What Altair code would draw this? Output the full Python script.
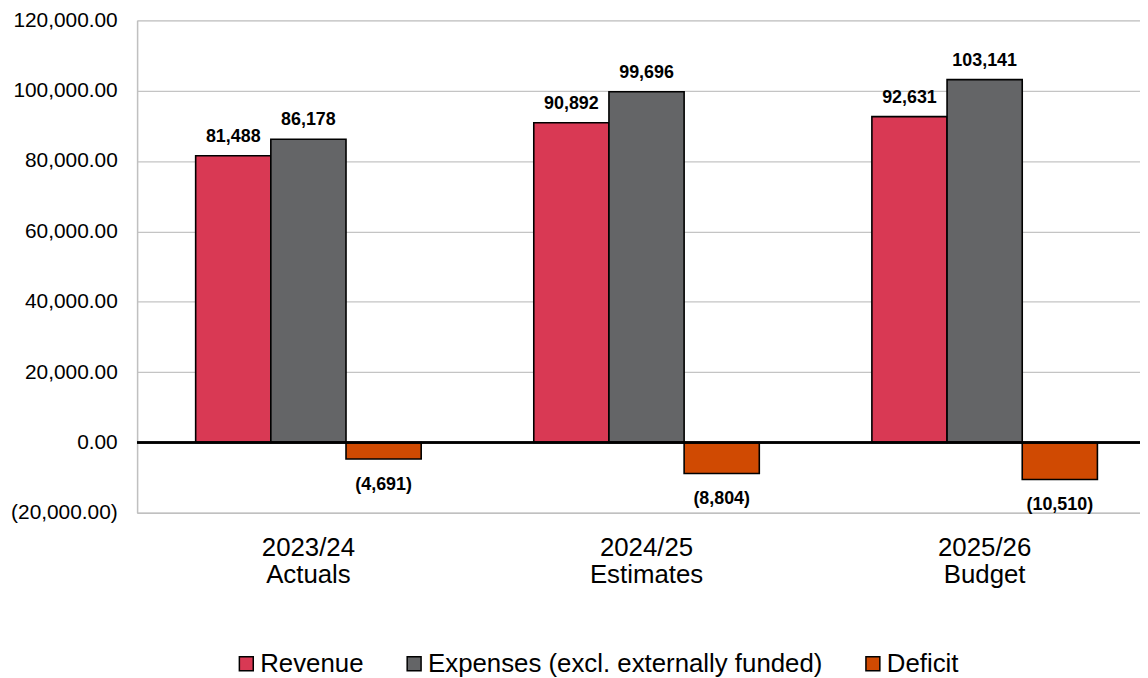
import altair as alt
import pandas as pd

periods = ["2023/24 Actuals", "2024/25 Estimates", "2025/26 Budget"]
series = ["Revenue", "Expenses (excl. externally funded)", "Deficit"]
revenue = [81488, 90892, 92631]
expenses = [86178, 99696, 103141]
deficit = [-4691, -8804, -10510]
colors = ["#d93954", "#646567", "#d04a02"]
y_ticks = [-20000, 0, 20000, 40000, 60000, 80000, 100000, 120000]

rows = []
for i, p in enumerate(periods):
    for s, v in zip(series, [revenue[i], expenses[i], deficit[i]]):
        rows.append({"period": p, "series": s, "value": v})
df = pd.DataFrame(rows)

FONT = "Liberation Sans"

x_enc = alt.X("period:N", sort=periods, title=None,
              scale=alt.Scale(paddingInner=0.333, paddingOuter=0.1496, align=0.579),
              axis=alt.Axis(labelExpr="split(datum.label, ' ')", labelAngle=0,
                            labelFontSize=26, labelFont=FONT, labelColor="#000000",
                            labelPadding=22, labelLineHeight=27, labelLimit=0,
                            ticks=False, domain=True,
                            domainColor="#c0c0c0", domainWidth=1.5))
xo_enc = alt.XOffset("series:N", sort=series,
                     scale=alt.Scale(paddingInner=0, paddingOuter=0))
y_enc = alt.Y("value:Q", title=None,
              scale=alt.Scale(domain=[-20000, 120000], nice=False),
              axis=alt.Axis(values=y_ticks,
                            labelExpr="datum.value < 0 ? '(' + format(-datum.value, ',.2f') + ')' : format(datum.value, ',.2f')",
                            labelFontSize=21, labelFont=FONT, labelColor="#000000",
                            labelPadding=20, labelLimit=0, ticks=False,
                            domainColor="#c0c0c0", domainWidth=1.5,
                            gridColor="#c4c4c4", gridWidth=1.2))

base = alt.Chart(df)

bars = base.mark_bar(stroke="#000000", strokeWidth=1.6).encode(
    x=x_enc, xOffset=xo_enc, y=y_enc,
    color=alt.Color("series:N", sort=series, title=None,
                    scale=alt.Scale(domain=series, range=colors),
                    legend=alt.Legend(orient="none", legendX=97, legendY=635,
                                      direction="horizontal",
                                      symbolType="square", symbolSize=196,
                                      symbolStrokeColor="#000000", symbolStrokeWidth=1.5,
                                      labelFontSize=26, labelFont=FONT, labelColor="#000000",
                                      labelLimit=0, columnPadding=37, labelOffset=1)),
)

pos_text = base.transform_filter("datum.value >= 0").mark_text(
    font=FONT, fontWeight="bold", fontSize=18, baseline="alphabetic", dy=-14, color="#000000"
).encode(x=x_enc, xOffset=xo_enc, y=y_enc, text=alt.Text("value:Q", format=","))

neg_text = base.transform_filter("datum.value < 0").transform_calculate(
    lbl="'(' + format(-datum.value, ',') + ')'"
).mark_text(
    font=FONT, fontWeight="bold", fontSize=18, baseline="alphabetic", dy=31, color="#000000"
).encode(x=x_enc, xOffset=xo_enc, y=y_enc, text="lbl:N")

zero = alt.Chart(df).mark_rule(color="#000000", strokeWidth=1.5).encode(y=alt.datum(0))

chart = alt.layer(bars, zero, pos_text, neg_text).properties(
    width=1010, height=496,
    autosize=alt.AutoSizeParams(type="none"),
    padding={"left": 130, "top": 10, "right": 0, "bottom": 172},
).configure_view(stroke=None).configure(background="#ffffff")

chart.save("out.html", embed_options={"renderer": "svg", "actions": False})
